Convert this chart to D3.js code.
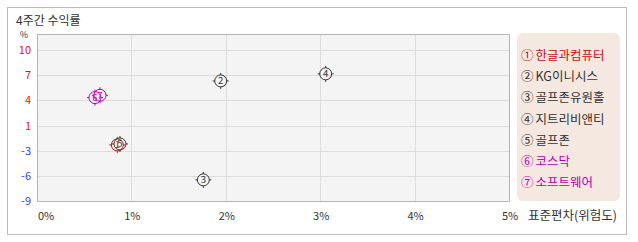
<!DOCTYPE html>
<html>
<head>
<meta charset="utf-8">
<script src="https://cdn.jsdelivr.net/npm/d3@7"></script>
<style>
  body{margin:0;background:#fff;font-family:"Noto Sans CJK KR","DejaVu Sans",sans-serif;}
  text{font-family:"Noto Sans CJK KR","DejaVu Sans",sans-serif;}
</style>
</head>
<body>
<svg id="chart" width="638" height="242"></svg>
<script>
//4주간 수익률 vs 표준편차 scatter

var names = ["한글과컴퓨터","KG이니시스","골프존유원홀","지트리비앤티","골프존","코스닥","소프트웨어"];
var marks = ["①","②","③","④","⑤","⑥","⑦"];
var risk = [0.851, 1.946, 1.762, 3.058, 0.879, 0.614, 0.667];   // 표준편차 %
var ret = [-1.94, 6.11, -6.34, 7.0, -1.82, 4.01, 4.30];         // 4주간 수익률 %
var colors = ["#c81010","#333333","#333333","#333333","#333333","#b400b4","#b400b4"];
var xTicks = [0,1,2,3,4,5];
var yMin = -9, yMax = 10, yTickCount = 6;

var svg = d3.select("#chart");

//outer frame
svg.append("rect")
  .attr("x",7.5).attr("y",7.5)
  .attr("width",619).attr("height",227)
  .attr("fill","#fff")
  .attr("stroke","#bbbbbb");

svg.append("text")
  .attr("x",16).attr("y",25)
  .attr("font-size",12)
  .attr("fill","#333")
  .text("4주간 수익률");

//plot area
let pLeft = 37, pRight = 509, pTop = 34, pBottom = 201;
let xScale = d3.scaleLinear().domain([0,5]).range([pLeft,pRight]);
let yScale = d3.scaleLinear().domain([yMin,yMax]).range([pBottom,50]);

svg.append("rect")
  .attr("x",pLeft).attr("y",pTop)
  .attr("width",pRight-pLeft).attr("height",pBottom-pTop)
  .attr("fill","#f4f4f4");

let yTicks = d3.range(yTickCount+1).map(i => yMin + i*(yMax-yMin)/yTickCount);

let grid = svg.append("g").attr("stroke","#dcdcdc").attr("stroke-width",1);
grid.selectAll(".gy").data(yTicks.slice(1)).enter().append("line")
  .attr("x1",pLeft).attr("x2",pRight)
  .attr("y1",d => Math.round(yScale(d))+0.5)
  .attr("y2",d => Math.round(yScale(d))+0.5);
grid.selectAll(".gx").data(xTicks.slice(1,-1)).enter().append("line")
  .attr("y1",pTop).attr("y2",pBottom)
  .attr("x1",d => Math.round(xScale(d))+0.5)
  .attr("x2",d => Math.round(xScale(d))+0.5);

//plot border
svg.append("path")
  .attr("d","M"+(pLeft+0.5)+","+pTop+"V"+(pBottom+0.5)+"H"+(pRight+0.5)+"V"+(pTop+0.5)+"H"+(pLeft+0.5))
  .attr("fill","none")
  .attr("stroke","#b4b4b4");

//y labels
svg.selectAll(".ylab").data(yTicks).enter().append("text")
  .attr("x",31)
  .attr("y",d => yScale(d)+4)
  .attr("text-anchor","end")
  .attr("font-size",11)
  .attr("fill",d => d>0 ? "#ee1111" : "#3a3aff")
  .text(d => Math.round(d));

svg.append("text")
  .attr("x",24).attr("y",38)
  .attr("text-anchor","middle")
  .attr("font-size",9)
  .attr("fill","#333")
  .text("%");

//x labels
svg.selectAll(".xlab").data(xTicks).enter().append("text")
  .attr("x",d => d===0 ? pLeft+1 : xScale(d)+1)
  .attr("y",220)
  .attr("text-anchor",d => d===0 ? "start" : "middle")
  .attr("font-size",11)
  .attr("fill","#333")
  .text(d => d+"%");

svg.append("text")
  .attr("x",528).attr("y",220)
  .attr("font-size",12.5)
  .attr("fill","#333")
  .text("표준편차(위험도)");

//points
let pts = svg.selectAll(".pt").data(d3.range(names.length)).enter().append("g")
  .attr("transform",i => "translate("+xScale(risk[i])+","+yScale(ret[i])+")");

pts.append("circle")
  .attr("r",6)
  .attr("fill","none")
  .attr("stroke",i => colors[i])
  .attr("stroke-width",1);

pts.append("path")
  .attr("d","M0,-8V-6M0,6V8M-8,0H-6M6,0H8")
  .attr("stroke",i => colors[i])
  .attr("stroke-width",1);

pts.append("text")
  .attr("y",3.5)
  .attr("text-anchor","middle")
  .attr("font-size",9.5)
  .attr("fill",i => colors[i])
  .text(i => i+1);

//legend
svg.append("rect")
  .attr("x",517).attr("y",33)
  .attr("width",103).attr("height",168)
  .attr("rx",6)
  .attr("fill","#f5e8e1");

let leg = svg.selectAll(".leg").data(d3.range(names.length)).enter().append("text")
  .attr("x",521)
  .attr("y",i => 60 + i*21.2)
  .attr("font-size",12.5)
  .attr("fill",i => colors[i]);
leg.append("tspan").text(i => marks[i]);
leg.append("tspan").attr("dx",2).text(i => names[i]);
</script>
</body>
</html>
